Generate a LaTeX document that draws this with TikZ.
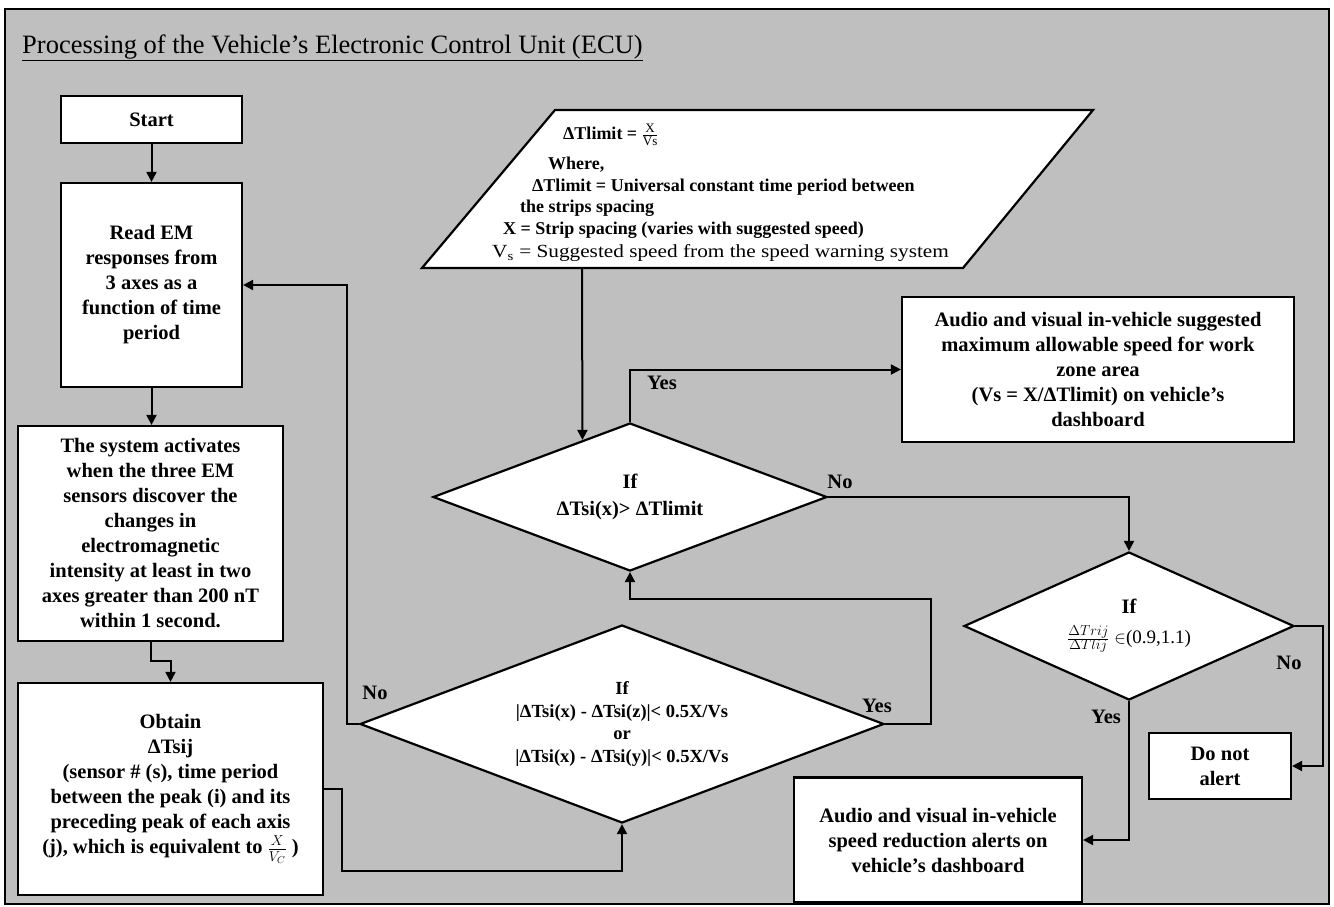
\documentclass[tikz,border=0pt]{standalone}
\usepackage{fontspec}
\setmainfont{Liberation Serif}
\usetikzlibrary{arrows.meta,shapes.geometric,calc}
\definecolor{panel}{RGB}{191,191,191}

\tikzset{
  whitebox/.style={fill=white, draw=black, line width=2.2pt},
  procbox/.style={whitebox, rectangle, inner sep=0pt, align=center,
    font=\bfseries\fontsize{20.5}{25}\selectfont},
  decision/.style={whitebox, diamond, inner sep=0pt, align=center},
  link/.style={line width=2pt, -{Triangle[length=10pt,width=10pt]}},
  lbl/.style={font=\bfseries\fontsize{20.5}{25}\selectfont, inner sep=0pt},
  partext/.style={anchor=west, inner sep=0pt, font=\bfseries\fontsize{18}{22}\selectfont},
}

\begin{document}
\begin{tikzpicture}[x=1pt,y=-1pt]
\useasboundingbox (0,0) rectangle (1334,906);
\fill[white] (0,0) rectangle (1334,906);
\draw[fill=panel, line width=1.8pt] (5,9) rectangle (1329,904);

% heading
\node[anchor=base west, inner sep=0pt, font=\fontsize{26.5}{30}\selectfont] (title) at (22,53)
  {\underline{Processing of the Vehicle’s Electronic Control Unit (ECU)}};

% left column
\node[procbox, minimum width=181, minimum height=47] (start) at (151.5,119.5) {Start};
\node[procbox, minimum width=181, minimum height=204] (read) at (151.5,285)
  {Read EM\\responses from\\3 axes as a\\function of time\\period};
\node[procbox, minimum width=265, minimum height=215] (act) at (150.5,533.5)
  {The system activates\\when the three EM\\sensors discover the\\changes in\\electromagnetic\\intensity at least in two\\axes greater than 200 nT\\within 1 second.};
\node[procbox, minimum width=305, minimum height=212] (obt) at (170.5,789)
  {Obtain\\ΔTsij\\(sensor \# (s), time period\\between the peak (i) and its\\preceding peak of each axis\\(j), which is equivalent to $\frac{X}{V_C}$ )};

% input data
\draw[whitebox] (422,268) -- (555,110) -- (1093,110) -- (963,268) -- cycle;
\node[partext] (p1) at (563,135) {ΔTlimit = $\frac{\mbox{\fontsize{13}{13}\selectfont\mdseries X}}{\mbox{\fontsize{13}{13}\selectfont\mdseries Vs}}$};
\node[partext] (p2) at (548,165) {Where,};
\node[partext] (p3) at (532,187) {ΔTlimit = Universal constant time period between};
\node[partext] (p4) at (520,208) {the strips spacing};
\node[partext] (p5) at (503,230) {X = Strip spacing (varies with suggested speed)};
\node[partext, font=\fontsize{18.5}{22}\selectfont] (p6) at (492,253)
  {\scalebox{1.15}[1]{V\textsubscript{s} = Suggested speed from the speed warning system}};
\coordinate (pbot) at (582,268);

% decisions
\node[decision, shape aspect=2.66, minimum width=394, minimum height=148,
      font=\bfseries\fontsize{20.5}{27}\selectfont] (d1) at (630,497)
  {If\\ΔTsi(x)> ΔTlimit};
\node[decision, shape aspect=2.65, minimum width=524, minimum height=198,
      font=\bfseries\fontsize{18.5}{22.5}\selectfont] (d2) at (622,724)
  {If\\|ΔTsi(x) - ΔTsi(z)|< 0.5X/Vs\\or\\|ΔTsi(x) - ΔTsi(y)|< 0.5X/Vs};
\node[decision, shape aspect=2.23, minimum width=330, minimum height=148,
      font=\bfseries\fontsize{20.5}{30}\selectfont] (d3) at (1129,626)
  {If\\{\mdseries\fontsize{19}{22}\selectfont $\frac{\Delta Trij}{\Delta Tlij}\in$(0.9,1.1)}};

% outputs
\node[procbox, minimum width=392, minimum height=145] (sugg) at (1098,369.5)
  {Audio and visual in-vehicle suggested\\maximum allowable speed for work\\zone area\\(Vs = X/ΔTlimit) on vehicle’s\\dashboard};
\node[procbox, minimum width=288, minimum height=125] (alert) at (938,840)
  {Audio and visual in-vehicle\\speed reduction alerts on\\vehicle’s dashboard};
\node[procbox, minimum width=142, minimum height=66] (noalert) at (1220,766) {Do not\\alert};

% connectors
\coordinate (lowrun) at (342,871);
\coordinate (yesrun) at (931,599);
\draw[link] (start.south) -- (read.north);
\draw[link] (read.south) -- (read.south |- act.north);
\draw[link] (act.south) -- ++(0,19) -| (obt.north);
\draw[link] (obt.east) -| (lowrun) -| (d2.south);
\draw[link] (d2.west) -- ++(-12,0) |- (read.east);
\draw[link] (d2.east) -| (yesrun) -| (d1.south);
\draw[link] (pbot) -- ($(d1.north)!0.24!(d1.west)$);
\draw[link] (d1.north) |- (sugg.west);
\draw[link] (d1.east) -| (d3.north);
\draw[link] (d3.east) -- ++(28,0) |- (noalert.east);
\draw[link] (d3.south) |- (alert.east);

% branch labels
\node[lbl] (y1) at (662,383) {Yes};
\node[lbl] (n1) at (840,482) {No};
\node[lbl] (n2) at (375,693) {No};
\node[lbl] (y2) at (877,706) {Yes};
\node[lbl] (n3) at (1289,663) {No};
\node[lbl] (y3) at (1106,717) {Yes};
\end{tikzpicture}
\end{document}
